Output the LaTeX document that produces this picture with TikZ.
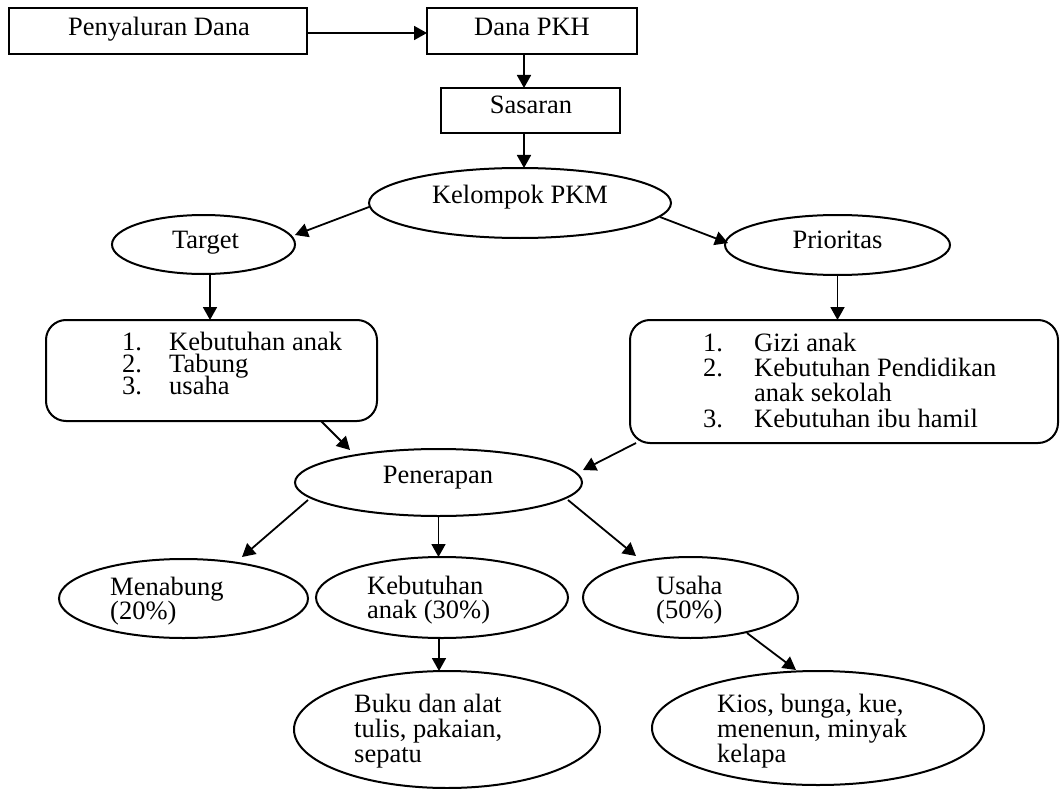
\documentclass[tikz,border=0pt]{standalone}
\usepackage{fontspec}
\setmainfont{Liberation Serif}
\usetikzlibrary{arrows.meta,shapes.geometric,calc}
\begin{document}
\begin{tikzpicture}[x=1pt,y=-1pt,
  every node/.style={font=\fontsize{26.5pt}{30pt}\selectfont},
  shp/.style={draw, line width=2pt, inner sep=0pt, outer sep=0pt},
  sqbox/.style={shp, rectangle},
  oval/.style={shp, ellipse},
  rndbox/.style={shp, rectangle, rounded corners=20pt},
  txt/.style={inner sep=0pt, anchor=base},
  txl/.style={inner sep=0pt, anchor=base west},
  arr/.style={line width=1.8pt, -{Triangle[length=13pt,width=14pt]}}]
\useasboundingbox (0,0) rectangle (1060,789);

% shapes
\node[sqbox, minimum width=298pt, minimum height=46pt] (pd) at (158,31) {};
\node[sqbox, minimum width=210pt, minimum height=46pt] (dp) at (532,31) {};
\node[sqbox, minimum width=179pt, minimum height=45pt] (sas) at (530.5,110.5) {};
\node[oval, minimum width=302pt, minimum height=70pt] (kpm) at (520,203) {};
\node[oval, minimum width=183pt, minimum height=59pt] (target) at (203.5,244.5) {};
\node[oval, minimum width=225pt, minimum height=60pt] (prio) at (837.5,245) {};
\node[rndbox, minimum width=331pt, minimum height=101pt] (lbox) at (211.5,370.5) {};
\node[rndbox, minimum width=428pt, minimum height=123pt] (rbox) at (844,381.5) {};
\node[oval, minimum width=287pt, minimum height=67pt] (pen) at (438.5,482.5) {};
\node[oval, minimum width=249pt, minimum height=79pt] (men) at (183.5,598.5) {};
\node[oval, minimum width=252pt, minimum height=81pt] (keb) at (442,597.5) {};
\node[oval, minimum width=215pt, minimum height=81pt] (usa) at (690.5,597.5) {};
\node[oval, minimum width=306pt, minimum height=117pt] (buku) at (447,729.5) {};
\node[oval, minimum width=332pt, minimum height=114pt] (kios) at (818,728) {};

% texts
\node[txt] (tpd) at (159,36) {Penyaluran Dana};
\node[txt] (tdp) at (532,36) {Dana PKH};
\node[txt] (tsas) at (531,114) {Sasaran};
\node[txt] (tkpm) at (520,203) {Kelompok PKM};
\node[txt] (ttar) at (205.5,248) {Target};
\node[txt] (tpri) at (837.5,248) {Prioritas};
\node[txl] (l1n) at (122,350) {1.};
\node[txl] (l1t) at (169,350) {Kebutuhan anak};
\node[txl] (l2n) at (122,372) {2.};
\node[txl] (l2t) at (169,372) {Tabung};
\node[txl] (l3n) at (122,394) {3.};
\node[txl] (l3t) at (169,394) {usaha};
\node[txl] (r1n) at (703,351) {1.};
\node[txl] (r1t) at (754,351) {Gizi anak};
\node[txl] (r2n) at (703,376) {2.};
\node[txl] (r2t) at (754,376) {Kebutuhan Pendidikan};
\node[txl] (r2u) at (754,401) {anak sekolah};
\node[txl] (r3n) at (703,427) {3.};
\node[txl] (r3t) at (754,427) {Kebutuhan ibu hamil};
\node[txt] (tpen) at (438,483) {Penerapan};
\node[txl] (tm1) at (110,595) {Menabung};
\node[txl] (tm2) at (110,619) {(20\%)};
\node[txl] (tk1) at (367,594) {Kebutuhan};
\node[txl] (tk2) at (367,618) {anak (30\%)};
\node[txl] (tu1) at (656,594) {Usaha};
\node[txl] (tu2) at (656,618) {(50\%)};
\node[txl] (tb1) at (354,712) {Buku dan alat};
\node[txl] (tb2) at (354,737) {tulis, pakaian,};
\node[txl] (tb3) at (354,762) {sepatu};
\node[txl] (tc1) at (717,712) {Kios, bunga, kue,};
\node[txl] (tc2) at (717,737) {menenun, minyak};
\node[txl] (tc3) at (717,762) {kelapa};

% connectors
\draw[arr] ([yshift=-2pt]pd.east) -- ([yshift=-2pt]dp.west);
\coordinate (a1) at ($(dp.south)+(-8,0)$);
\draw[arr] (a1) -- (a1 |- sas.north);
\coordinate (a2) at ($(sas.south)+(-6.5,0)$);
\draw[arr] (a2) -- (a2 |- kpm.north);
\draw[arr] ($(kpm)+(-151,4)$) -- ($(target)+(91.5,-9.5)$);
\draw[arr] ($(kpm)+(140,14)$) -- ($(prio)+(-109.5,-2)$);
\coordinate (a3) at ($(target.south)+(6.5,0)$);
\draw[arr] (a3) -- (a3 |- lbox.north);
\draw[arr] (prio.south) -- (prio.south |- rbox.north);
\draw[arr] ($(lbox.south east)+(-56,0)$) -- ($(pen)+(-88.5,-32.5)$);
\draw[arr] ($(rbox.south west)+(6,0)$) -- ($(pen)+(144.5,-12.5)$);
\draw[arr] ($(pen)+(-130.5,17.5)$) -- ($(men)+(58.5,-41.5)$);
\draw[arr] (pen.south) -- (pen.south |- keb.north);
\draw[arr] ($(pen)+(129.5,17.5)$) -- ($(usa)+(-54.5,-41.5)$);
\coordinate (a4) at ($(keb.south)+(-3,0)$);
\draw[arr] (a4) -- (a4 |- buku.north);
\draw[arr] ($(usa)+(56.5,35.5)$) -- ($(kios)+(-22,-58)$);
\end{tikzpicture}
\end{document}
